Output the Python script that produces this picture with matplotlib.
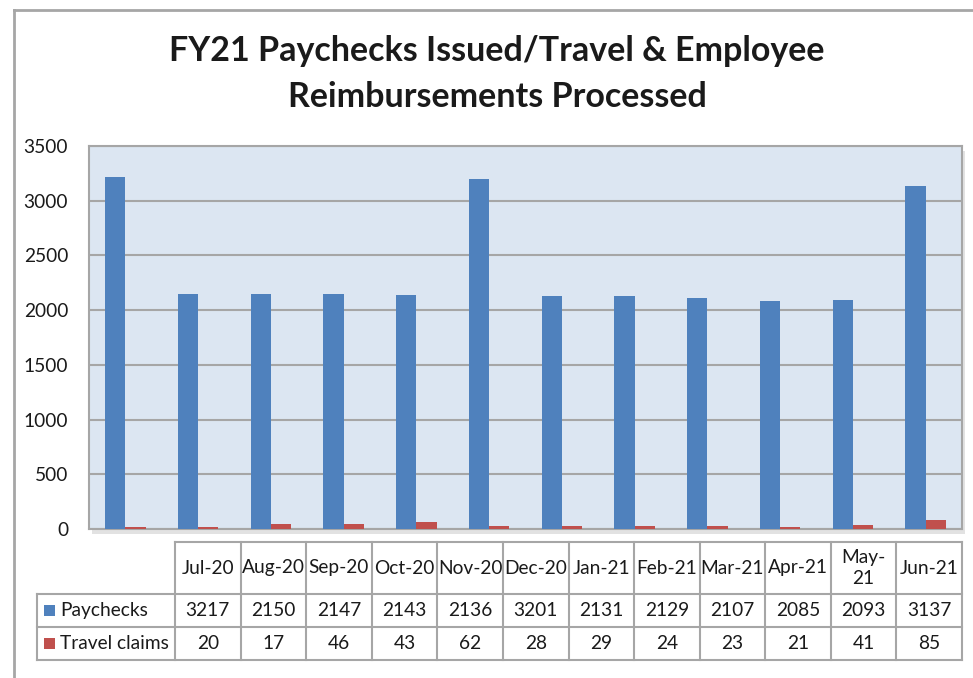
import matplotlib.pyplot as plt
from matplotlib.patches import Rectangle
import numpy as np

plt.rcParams["font.family"] = ["Lato", "DejaVu Sans"]

# data
months = ["Jul-20", "Aug-20", "Sep-20", "Oct-20", "Nov-20", "Dec-20",
          "Jan-21", "Feb-21", "Mar-21", "Apr-21", "May-\n21", "Jun-21"]
paychecks = [3217, 2150, 2147, 2143, 2136, 3201, 2131, 2129, 2107, 2085, 2093, 3137]
travel = [20, 17, 46, 43, 62, 28, 29, 24, 23, 21, 41, 85]
series_names = ["Paychecks", "Travel claims"]
yticks = [0, 500, 1000, 1500, 2000, 2500, 3000, 3500]

blue = "#4F81BD"
red = "#C0504D"
grey = "#A6A6A6"
txt = "#1a1a1a"
fs = 13.8

W, H = 973, 678
fig = plt.figure(figsize=(W / 100, H / 100), dpi=100)


def fx(px):
    return px / W


def fy(py):
    return 1 - py / H


# outer frame (left + top)
fig.add_artist(plt.Line2D([fx(14), fx(14)], [fy(10), fy(678)], color=grey, lw=2))
fig.add_artist(plt.Line2D([fx(14), fx(973)], [fy(10), fy(10)], color=grey, lw=2))

# title
fig.text(fx(497), fy(51), "FY21 Paychecks Issued/Travel & Employee",
         ha="center", va="center", fontsize=24.5, fontweight="bold", color=txt)
fig.text(fx(497), fy(97), "Reimbursements Processed",
         ha="center", va="center", fontsize=24.5, fontweight="bold", color=txt)

# plot area
left, right, top, bottom = 89, 962, 146, 529

# shadow
fig.add_artist(Rectangle((fx(left + 3), fy(bottom + 5)), fx(right - left), fy(top) - fy(bottom),
                         facecolor="#d0d0d0", edgecolor="none", alpha=0.6, zorder=0))

ax = fig.add_axes([fx(left), fy(bottom), fx(right - left), fy(top) - fy(bottom)])
ax.set_facecolor("#DCE6F2")
x = np.arange(len(months))
w = 0.28
ax.bar(x - w / 2, paychecks, width=w, color=blue, zorder=3)
ax.bar(x + w / 2, travel, width=w, color=red, zorder=3)
ax.set_xlim(-0.5, len(months) - 0.5)
ax.set_ylim(0, 3500)
ax.set_yticks(yticks)
ax.set_yticklabels([str(t) for t in yticks], fontsize=fs, color=txt)
ax.tick_params(axis="y", length=0, pad=15)
ax.set_xticks([])
ax.grid(axis="y", color=grey, lw=1.5, zorder=1)
for s in ax.spines.values():
    s.set_color(grey)
    s.set_linewidth(1.5)

# data table
t_left, t_hdr, t_right = 37, 175, 962
rows_y = [542, 594, 627, 660]
col_w = (t_right - t_hdr) / len(months)
lc = dict(color=grey, lw=1.5)

# horizontal lines
fig.add_artist(plt.Line2D([fx(t_hdr), fx(t_right)], [fy(rows_y[0])] * 2, **lc))
for yy in rows_y[1:]:
    fig.add_artist(plt.Line2D([fx(t_left), fx(t_right)], [fy(yy)] * 2, **lc))
# vertical lines
fig.add_artist(plt.Line2D([fx(t_left)] * 2, [fy(rows_y[1]), fy(rows_y[3])], **lc))
for i in range(len(months) + 1):
    xx = t_hdr + i * col_w
    fig.add_artist(plt.Line2D([fx(xx)] * 2, [fy(rows_y[0]), fy(rows_y[3])], **lc))

# headers and values
for i, m in enumerate(months):
    cx = t_hdr + (i + 0.5) * col_w
    fig.text(fx(cx), fy((rows_y[0] + rows_y[1]) / 2), m, ha="center", va="center",
             fontsize=fs, color=txt, linespacing=1.25)
    fig.text(fx(cx), fy((rows_y[1] + rows_y[2]) / 2), str(paychecks[i]), ha="center",
             va="center", fontsize=fs, color=txt)
    fig.text(fx(cx), fy((rows_y[2] + rows_y[3]) / 2), str(travel[i]), ha="center",
             va="center", fontsize=fs, color=txt)

# row labels with legend keys
for r, (name, c) in enumerate(zip(series_names, [blue, red])):
    cy = (rows_y[r + 1] + rows_y[r + 2]) / 2
    fig.add_artist(Rectangle((fx(44), fy(cy + 5)), fx(11), fy(cy - 6) - fy(cy + 5),
                             facecolor=c, edgecolor="none"))
    fig.text(fx(60), fy(cy), name, ha="left", va="center", fontsize=fs, color=txt)

fig.savefig("out.png", dpi=100)
